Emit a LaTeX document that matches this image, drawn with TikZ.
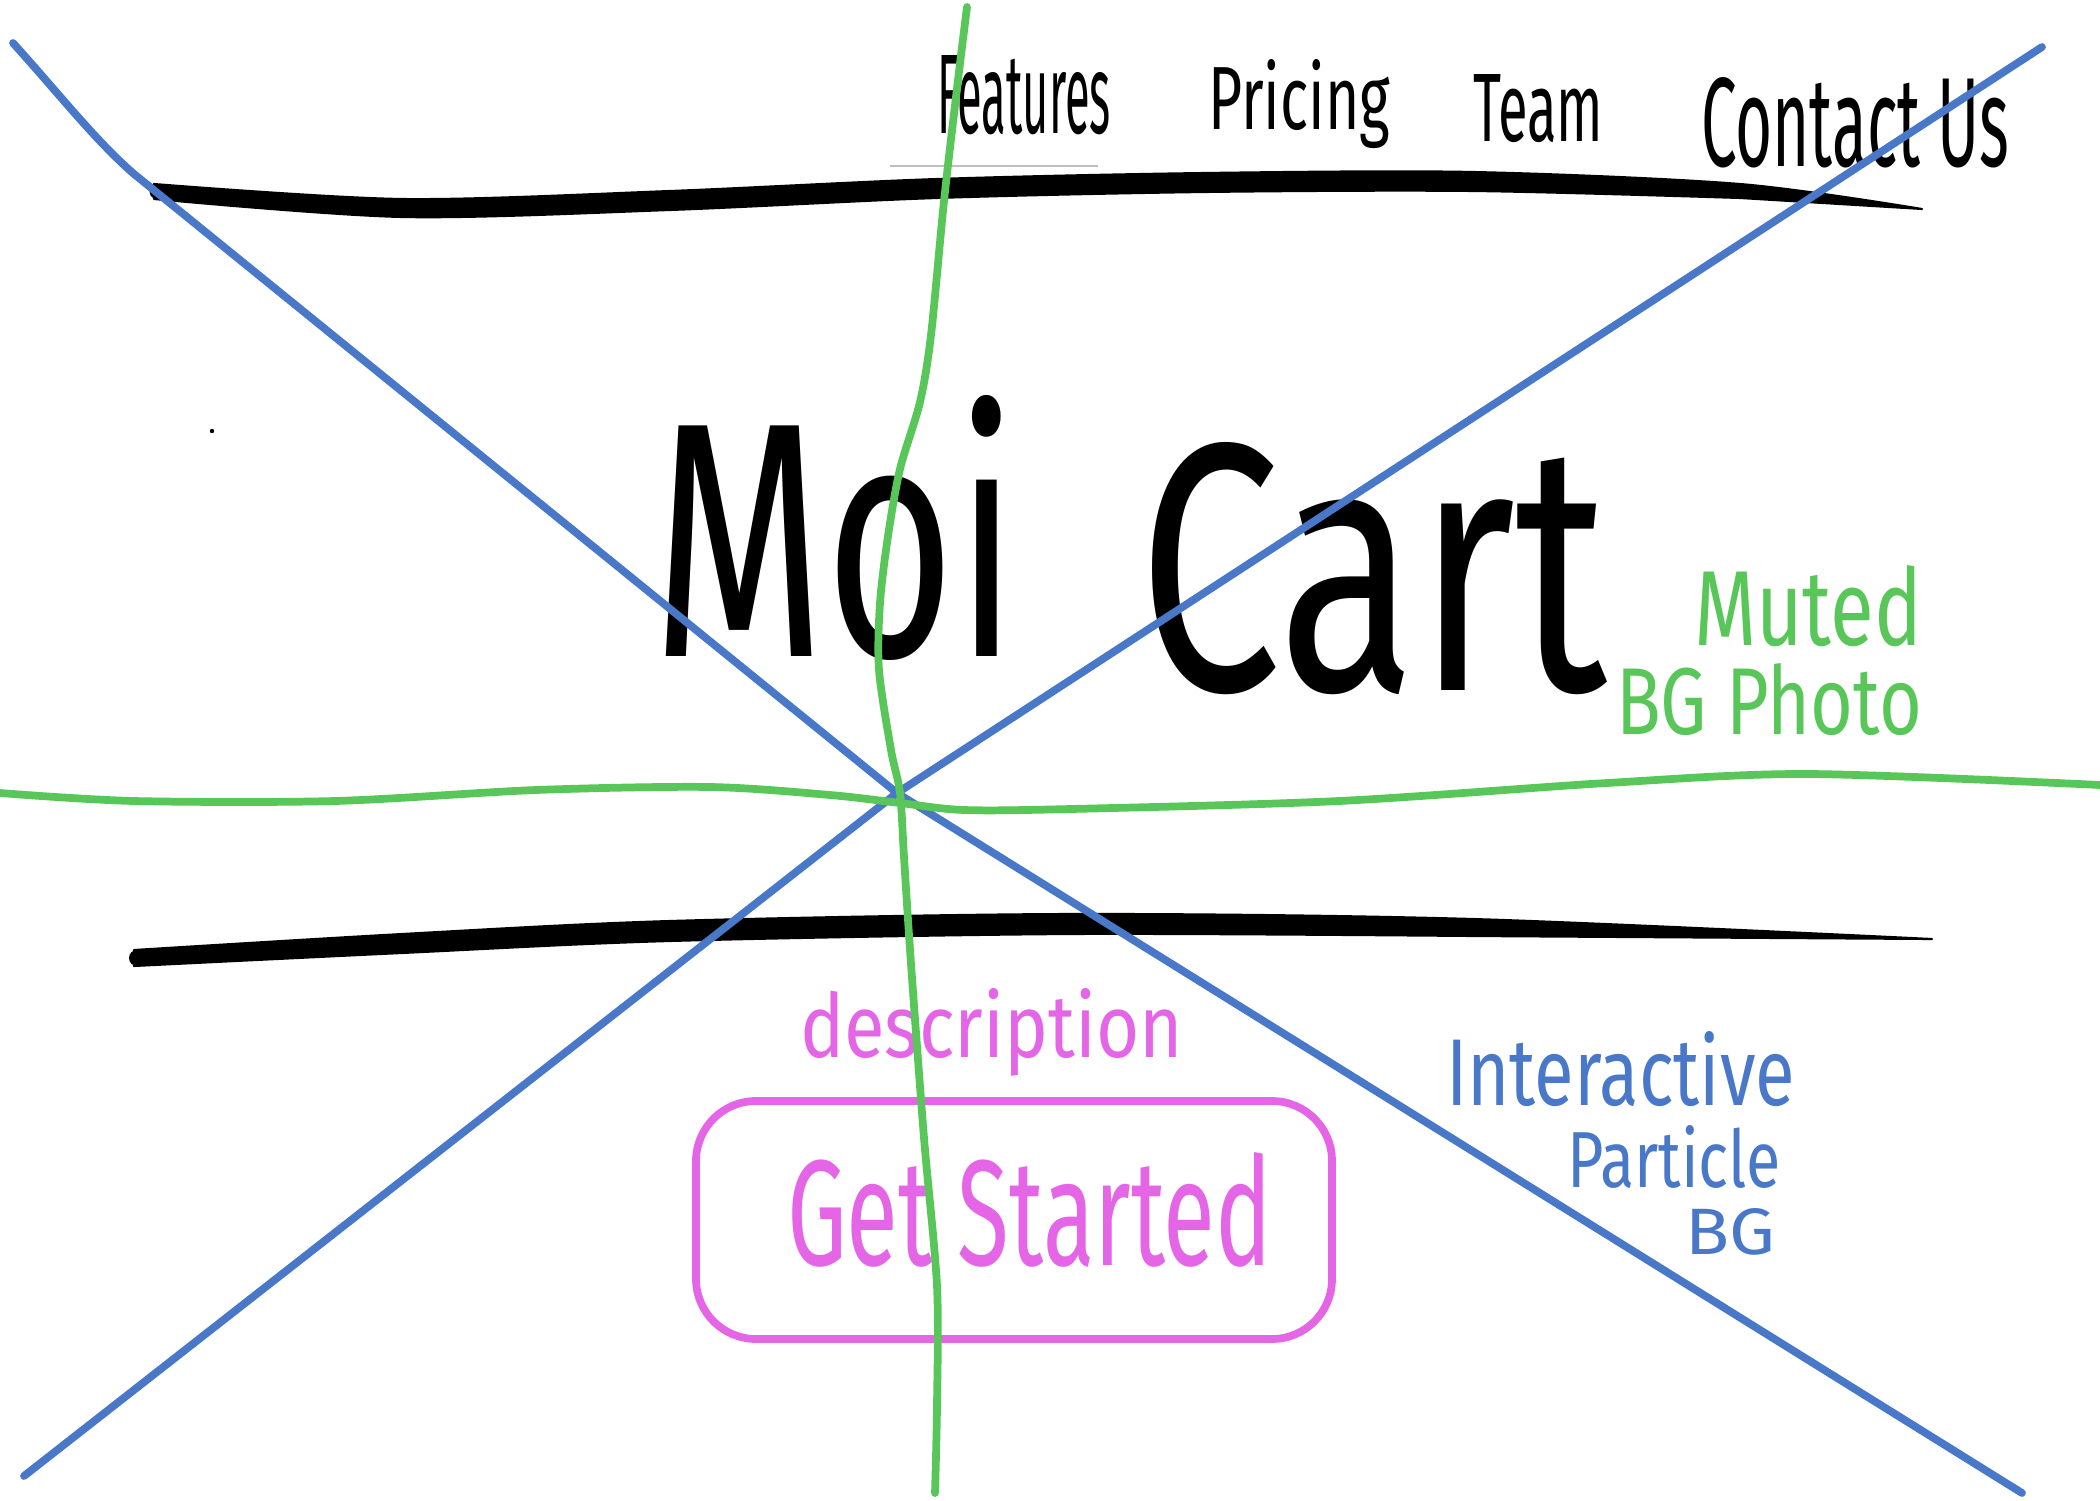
\documentclass[tikz,border=0pt]{standalone}
\usepackage{fontspec}
\setmainfont{Fira Sans}
\usepackage{graphicx}
\definecolor{skblue}{HTML}{4A78C9}
\definecolor{skgreen}{HTML}{58C658}
\definecolor{skpink}{HTML}{E466E6}
\newdimen\pxu \pxu=0.01cm
\newcommand{\fw}[3]{\resizebox{#1\pxu}{#2\pxu}{#3}}
\tikzset{
  word/.style={inner sep=0pt, outer sep=0pt, anchor=base west},
  blueline/.style={draw=skblue, line width=2.2pt, line cap=round, line join=round},
  greenline/.style={draw=skgreen, line width=2.2pt, line cap=round, line join=round},
  inkfill/.style={fill=black, draw=black, line width=0.6pt, line join=round},
}
\begin{document}
\begin{tikzpicture}[x=0.01cm, y=-0.01cm]
\useasboundingbox (0,0) rectangle (2100,1500);
\fill[white] (0,0) rectangle (2100,1500);

% faint guide line
\draw[black!25, line width=0.4pt] (890,166) -- (1098,166);
% small dot
\fill[black] (212,431) circle (2.2);

% black header / section rules (tapered brush strokes)
\path[inkfill] plot[smooth] coordinates {(154,184) (402,199) (670,191) (937,179) (1205,173) (1473,172) (1740,184) (1922,209)}
  -- plot[smooth] coordinates {(1740,198) (1473,191) (1205,192) (937,198) (670,210) (402,217) (154,199)} -- cycle;
\fill[black] (157,191.5) circle (7.5);
\path[inkfill] plot[smooth] coordinates {(134,950) (402,934) (670,921) (1071,914) (1473,919) (1932,939)}
  -- plot[smooth] coordinates {(1473,936) (1071,934) (670,941) (402,953) (134,966)} -- cycle;
\fill[black] (137,958) circle (8);

% texts
\node[word] (features) at (937,134) {\fw{174}{78}{Features}};
\node[word] (pricing) at (1208,130) {\fw{182}{70}{Pricing}};
\node[word] (team) at (1473,141) {\fw{130}{67}{Team}};
\node[word] (contact) at (1701,167) {\fw{308}{89}{Contact Us}};
\node[word] (moi) at (652,656) {\fw{366}{261}{Moi}};
\node[word] (cart) at (1138,690) {\fw{469}{248}{Cart}};
\node[word, text=skgreen] (muted) at (1694,645) {\fw{228}{80}{Muted}};
\node[word, text=skgreen] (bgphoto) at (1616,734) {\fw{306}{71}{BG Photo}};
\node[word, text=skpink] (desc) at (800,1057) {\fw{383}{69}{description}};
\node[draw=skpink, line width=2.2pt, rounded corners=0.6cm, minimum width=636\pxu, minimum height=238\pxu, inner sep=0pt] (btn) at (1014,1220) {};
\node[word, text=skpink] (getstarted) at (787,1265) {\fw{485}{113}{Get Started}};
\node[word, text=skblue] (interactive) at (1446,1105) {\fw{349}{74}{Interactive}};
\node[word, text=skblue] (particle) at (1567,1187) {\fw{214}{62}{Particle}};
\node[word, text=skblue] (bg) at (1685,1254) {\fw{90}{46}{BG}};

% blue diagonals
\coordinate (cross) at (897,793);
\draw[blueline] (13,43) .. controls (60,95) and (95,140) .. (134,174) -- (cross) -- (2022,1493);
\draw[blueline] (24,1476) -- (cross) -- (2042,47);

% green cross
\draw[greenline] plot[smooth] coordinates {(967,7) (958,80) (944,201) (931,335) (920,402) (900,469) (888,536) (880,603) (879,670) (891,750) (900,793) (904,857) (911,964) (924,1138) (937,1286) (937,1406) (935,1493)};
\draw[greenline] plot[smooth] coordinates {(0,793) (134,801) (335,801) (536,790) (710,787) (830,795) (900,803) (964,810) (1071,809) (1339,801) (1607,783) (1808,774) (2100,785)};
\end{tikzpicture}
\end{document}
